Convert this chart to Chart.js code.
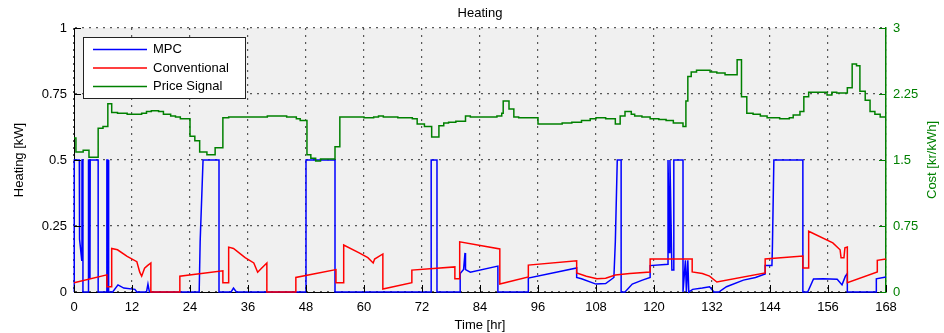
<!DOCTYPE html>
<html>
<head>
<meta charset="utf-8">
<title>Heating</title>
<script src="https://cdn.jsdelivr.net/npm/chart.js@4.4.1/dist/chart.umd.min.js"></script>
<style>
    html, body { margin: 0; padding: 0; background: #fff; }
    canvas { display: block; }
</style>
</head>
<body>
<canvas id="heatingChart" width="944" height="333"></canvas>
<script>
// x tick labels (hours) and tick values for the two y axes
var hourTicks = [0, 12, 24, 36, 48, 60, 72, 84, 96, 108, 120, 132, 144, 156, 168];
var powerTicks = [0, 0.25, 0.5, 0.75, 1];
var costTicks = [0, 0.75, 1.5, 2.25, 3];

// MPC heating [kW]
var mpcHours = [0, 0.05, 1.1, 1.15, 1.6, 1.65, 1.85, 1.85, 3.0, 3.0, 3.3, 3.3, 3.35, 5.0, 5.0, 6.8, 6.8, 7.0, 7.0, 7.1, 7.1, 7.2, 7.2,
    8.0, 9.1, 10.3, 12.6, 13.0, 15.0, 15.3, 15.6, 25.9, 26.1, 26.7, 30.0, 30.0, 32.5, 33.0, 33.6, 48.0, 48.0, 54.0, 54.0,
    73.9, 73.9, 75.1, 75.1, 79.9, 79.9, 80.6, 80.9, 81.0, 82.0, 87.7, 87.7, 94.0, 94.0, 104.0, 104.0, 105.0, 108.0, 110.0,
    111.7, 112.0, 112.4, 113.2, 113.2, 114.0, 115.5, 117.6, 119.2, 119.2, 122.9, 122.9, 123.2, 123.3, 123.7, 124.0, 124.1,
    126.0, 126.0, 126.5, 126.7, 127.0, 127.2, 128.0, 130.0, 131.5, 132.4, 133.4, 135.0, 138.5, 141.0, 143.0, 143.0, 144.4,
    144.5, 144.8, 150.8, 150.8, 151.8, 153.0, 155.0, 157.9, 158.9, 159.6, 160.0, 160.0, 166.0, 166.0, 168.0];
var mpcValues = [0, 0.5, 0.5, 0.2, 0.12, 0.5, 0.5, 0, 0, 0.5, 0.5, 0.05, 0.5, 0.5, 0, 0, 0.5, 0.5, 0, 0, 0.5, 0.5, 0,
    0, 0.027, 0.015, 0.01, 0, 0, 0.03, 0, 0, 0.19, 0.5, 0.5, 0, 0, 0.015, 0, 0, 0.5, 0.5, 0,
    0, 0.5, 0.5, 0, 0, 0.07, 0.085, 0.148, 0.085, 0.075, 0.098, 0, 0, 0.053, 0.091, 0.055, 0.05, 0.03, 0.032,
    0.055, 0.19, 0.5, 0.5, 0, 0, 0.03, 0.045, 0.055, 0.1, 0.105, 0.5, 0.15, 0.5, 0.083, 0.083, 0.5,
    0.5, 0, 0.12, 0, 0.12, 0, 0.01, 0.015, 0.02, 0, 0, 0.02, 0.045, 0.055, 0.068, 0.1, 0.1,
    0.17, 0.5, 0.5, 0, 0, 0.049, 0.05, 0.048, 0.027, 0.06, 0.07, 0, 0, 0.05, 0.057];

// Conventional heating [kW]
var convHours = [0, 6.8, 6.8, 7.8, 7.8, 9.0, 11.0, 13.0, 13.6, 14.0, 14.6, 15.2, 15.9, 15.9, 21.9, 21.9, 30.8, 30.8, 32.0,
    32.0, 33.0, 35.4, 37.2, 38.0, 38.8, 39.9, 39.9, 45.9, 45.9, 54.2, 54.2, 55.8, 55.8, 59.0, 60.8, 61.9, 62.2, 63.9, 63.9,
    69.9, 69.9, 78.8, 78.8, 79.8, 79.8, 88.1, 88.1, 94.0, 94.0, 104.0, 104.0, 106.0, 108.2, 110.0, 112.0, 115.0, 119.2,
    119.2, 127.9, 127.9, 130.0, 131.5, 133.0, 143.0, 143.0, 150.8, 150.8, 152.0, 152.0, 157.0, 158.5, 158.7, 159.3, 159.5,
    160.0, 160.0, 166.2, 166.2, 168.0];
var convValues = [0.035, 0.065, 0.02, 0.02, 0.165, 0.16, 0.135, 0.115, 0.075, 0.06, 0.09, 0.1, 0.11, 0, 0, 0.06, 0.08, 0.035, 0.035,
    0.17, 0.165, 0.13, 0.11, 0.075, 0.09, 0.11, 0, 0, 0.055, 0.085, 0.035, 0.035, 0.178, 0.148, 0.13, 0.11, 0.125, 0.144, 0.011,
    0.035, 0.083, 0.095, 0.05, 0.05, 0.19, 0.163, 0.03, 0.057, 0.102, 0.118, 0.072, 0.06, 0.05, 0.052, 0.064, 0.07, 0.076,
    0.125, 0.125, 0.076, 0.07, 0.06, 0.038, 0.072, 0.125, 0.136, 0.091, 0.091, 0.23, 0.186, 0.16, 0.13, 0.13, 0.167,
    0.17, 0.035, 0.076, 0.12, 0.125];

// Price signal [kr/kWh], each value held until the next hour in the list
var priceHours = [0, 0.4, 1.9, 3.1, 5.0, 6.0, 7.0, 7.8, 9, 11, 13, 14, 15, 16, 17.5, 18.5, 20, 21, 22, 24, 25, 26, 27.5, 29.2,
    30.8, 32, 40, 44, 46, 46.8, 48.2, 49, 50, 51, 53, 54, 55, 58, 60, 62, 63, 64, 67, 70, 71, 72.5, 74, 75.5, 76.5, 77.5, 79,
    81, 82, 86, 87.5, 88.5, 88.8, 90, 91, 92, 96, 98, 101, 103, 105, 106.8, 108, 110, 112, 113, 114, 115.3, 116, 117.5,
    119.2, 121, 122.5, 124, 126, 126.6, 127, 127.7, 128.8, 130, 131.6, 133, 134.7, 137.2, 138.1, 139.2, 140.5, 142, 143.4,
    146, 148, 148.8, 150.2, 151, 152, 155.8, 156.8, 157.8, 160, 161, 161.9, 162.6, 163.7, 164.7, 165.7, 166.8, 168];
var priceValues = [1.75, 1.59, 1.61, 1.53, 1.86, 1.88, 2.14, 2.04, 2.03, 2.02, 2.02, 2.03, 2.05, 2.06, 2.05, 2.02, 2.00, 1.99, 1.97,
    1.77, 1.72, 1.59, 1.56, 1.64, 1.98, 1.99, 2.00, 1.99, 1.97, 1.95, 1.56, 1.52, 1.49, 1.51, 1.51, 1.65, 1.99, 1.99, 1.98, 1.99,
    2.00, 1.99, 1.98, 1.97, 1.91, 1.88, 1.76, 1.89, 1.92, 1.93, 1.94, 2.00, 1.99, 1.99, 2.00, 2.03, 2.17, 2.08, 1.99, 1.98,
    1.91, 1.91, 1.92, 1.93, 1.95, 1.97, 1.98, 1.97, 1.91, 2.00, 2.05, 2.02, 2.00, 1.99, 1.97, 1.96, 1.95, 1.92, 1.88, 2.17,
    2.45, 2.50, 2.52, 2.52, 2.50, 2.49, 2.47, 2.64, 2.22, 2.03, 2.02, 2.00, 1.98, 1.97, 1.98, 2.01, 2.05, 2.22, 2.27, 2.24,
    2.27, 2.26, 2.32, 2.59, 2.57, 2.28, 2.18, 2.05, 2.02, 1.99, 1.99];

var FONT = "'Liberation Sans', Arial, Helvetica, sans-serif";
var GREEN = 'rgb(0,128,0)';

function toPoints(xs, ys) {
    var pts = [];
    for (var i = 0; i < xs.length; i++) {
        pts.push({x: xs[i], y: ys[i]});
    }
    return pts;
}

function fixedTicks(values) {
    return function (scale) {
        scale.ticks = values.map(function (v) {
            return {value: v};
        });
    };
}

function plainLabel(value) {
    return String(value);
}

// gray plot area behind the lines
var plotBackground = {
    id: 'plotBackground',
    beforeDraw: function (chart) {
        var a = chart.chartArea, ctx = chart.ctx;
        ctx.save();
        ctx.fillStyle = '#f0f0f0';
        ctx.fillRect(a.left, a.top, a.right - a.left, a.bottom - a.top);
        ctx.restore();
    }
};

// matlab style: tick marks pointing into the plot, boxed legend, right axis title reading upwards
var matlabExtras = {
    id: 'matlabExtras',
    afterDraw: function (chart) {
        var ctx = chart.ctx, a = chart.chartArea;
        var sx = chart.scales.x, sy = chart.scales.y, sc = chart.scales.cost;
        ctx.save();
        ctx.lineWidth = 1;
        ctx.strokeStyle = '#000';
        ctx.beginPath();
        sx.ticks.forEach(function (t) {
            var px = Math.round(sx.getPixelForValue(t.value)) + 0.5;
            ctx.moveTo(px, a.bottom);
            ctx.lineTo(px, a.bottom - 7);
        });
        sy.ticks.forEach(function (t) {
            var py = Math.round(sy.getPixelForValue(t.value)) + 0.5;
            ctx.moveTo(a.left, py);
            ctx.lineTo(a.left + 7, py);
        });
        ctx.stroke();
        ctx.strokeStyle = GREEN;
        ctx.beginPath();
        sc.ticks.forEach(function (t) {
            var py = Math.round(sc.getPixelForValue(t.value)) + 0.5;
            ctx.moveTo(a.right, py);
            ctx.lineTo(a.right - 7, py);
        });
        ctx.stroke();

        // right axis title
        ctx.fillStyle = GREEN;
        ctx.font = '13px ' + FONT;
        ctx.textAlign = 'center';
        ctx.textBaseline = 'middle';
        ctx.translate(932, (a.top + a.bottom) / 2);
        ctx.rotate(-Math.PI / 2);
        ctx.fillText('Cost [kr/kWh]', 0, 0);
        ctx.setTransform(1, 0, 0, 1, 0, 0);

        // legend
        var lx = a.left + 9, ly = a.top + 9, lw = 162, lh = 61;
        ctx.fillStyle = '#fff';
        ctx.fillRect(lx, ly, lw, lh);
        ctx.strokeStyle = '#222';
        ctx.lineWidth = 1;
        ctx.strokeRect(lx + 0.5, ly + 0.5, lw, lh);
        ctx.textAlign = 'left';
        ctx.fillStyle = '#000';
        chart.data.datasets.forEach(function (ds, row) {
            var y = ly + 12.5 + row * 18.5;
            ctx.strokeStyle = ds.borderColor;
            ctx.lineWidth = 1.5;
            ctx.beginPath();
            ctx.moveTo(lx + 10, y);
            ctx.lineTo(lx + 64, y);
            ctx.stroke();
            ctx.fillText(ds.label, lx + 70, y);
        });
        ctx.restore();
    }
};

Chart.defaults.font.family = FONT;
Chart.defaults.font.size = 13;
Chart.defaults.color = '#000';

new Chart(document.getElementById('heatingChart'), {
    type: 'line',
    data: {
        datasets: [
            {
                label: 'MPC',
                data: toPoints(mpcHours, mpcValues),
                borderColor: 'rgb(0,0,255)',
                borderWidth: 1.5,
                pointRadius: 0,
                yAxisID: 'y',
                order: 2,
                clip: 3
            },
            {
                label: 'Conventional',
                data: toPoints(convHours, convValues),
                borderColor: 'rgb(255,0,0)',
                borderWidth: 1.5,
                pointRadius: 0,
                yAxisID: 'y',
                order: 1,
                clip: 3
            },
            {
                label: 'Price Signal',
                data: toPoints(priceHours, priceValues),
                borderColor: GREEN,
                borderWidth: 1.5,
                pointRadius: 0,
                stepped: 'before',
                yAxisID: 'cost',
                order: 0,
                clip: 3
            }
        ]
    },
    options: {
        responsive: false,
        animation: false,
        devicePixelRatio: 1,
        layout: {padding: 0},
        plugins: {
            legend: {display: false},
            tooltip: {enabled: false},
            title: {
                display: true,
                text: 'Heating',
                fullSize: false,
                color: '#000',
                font: {size: 13, weight: 'normal'},
                padding: {top: 6, bottom: 6.4}
            }
        },
        scales: {
            x: {
                type: 'linear',
                min: 0,
                max: 168,
                afterBuildTicks: fixedTicks(hourTicks),
                afterFit: function (s) { s.height = 41; },
                ticks: {padding: 8, autoSkip: false, maxRotation: 0, color: '#000', callback: plainLabel},
                grid: {color: 'rgba(60,60,60,0.85)', lineWidth: 1.2, drawTicks: false},
                border: {display: true, color: '#000', width: 1, dash: [2, 5]},
                title: {display: true, text: 'Time [hr]', padding: 0, color: '#000'}
            },
            y: {
                position: 'left',
                min: 0,
                max: 1,
                afterBuildTicks: fixedTicks(powerTicks),
                afterFit: function (s) { s.width = 74; },
                ticks: {padding: 7, color: '#000', callback: plainLabel},
                grid: {color: 'rgba(60,60,60,0.85)', lineWidth: 1.2, drawTicks: false},
                border: {display: true, color: '#000', width: 1, dash: [2, 5]},
                title: {display: true, text: 'Heating [kW]', padding: {top: 12, bottom: 0}, color: '#000'}
            },
            cost: {
                position: 'right',
                min: 0,
                max: 3,
                afterBuildTicks: fixedTicks(costTicks),
                afterFit: function (s) { s.width = 58; },
                ticks: {padding: 7, color: GREEN, callback: plainLabel},
                grid: {display: false, drawTicks: false},
                border: {display: true, color: GREEN, width: 1.5}
            }
        }
    },
    plugins: [plotBackground, matlabExtras]
});
</script>
</body>
</html>
